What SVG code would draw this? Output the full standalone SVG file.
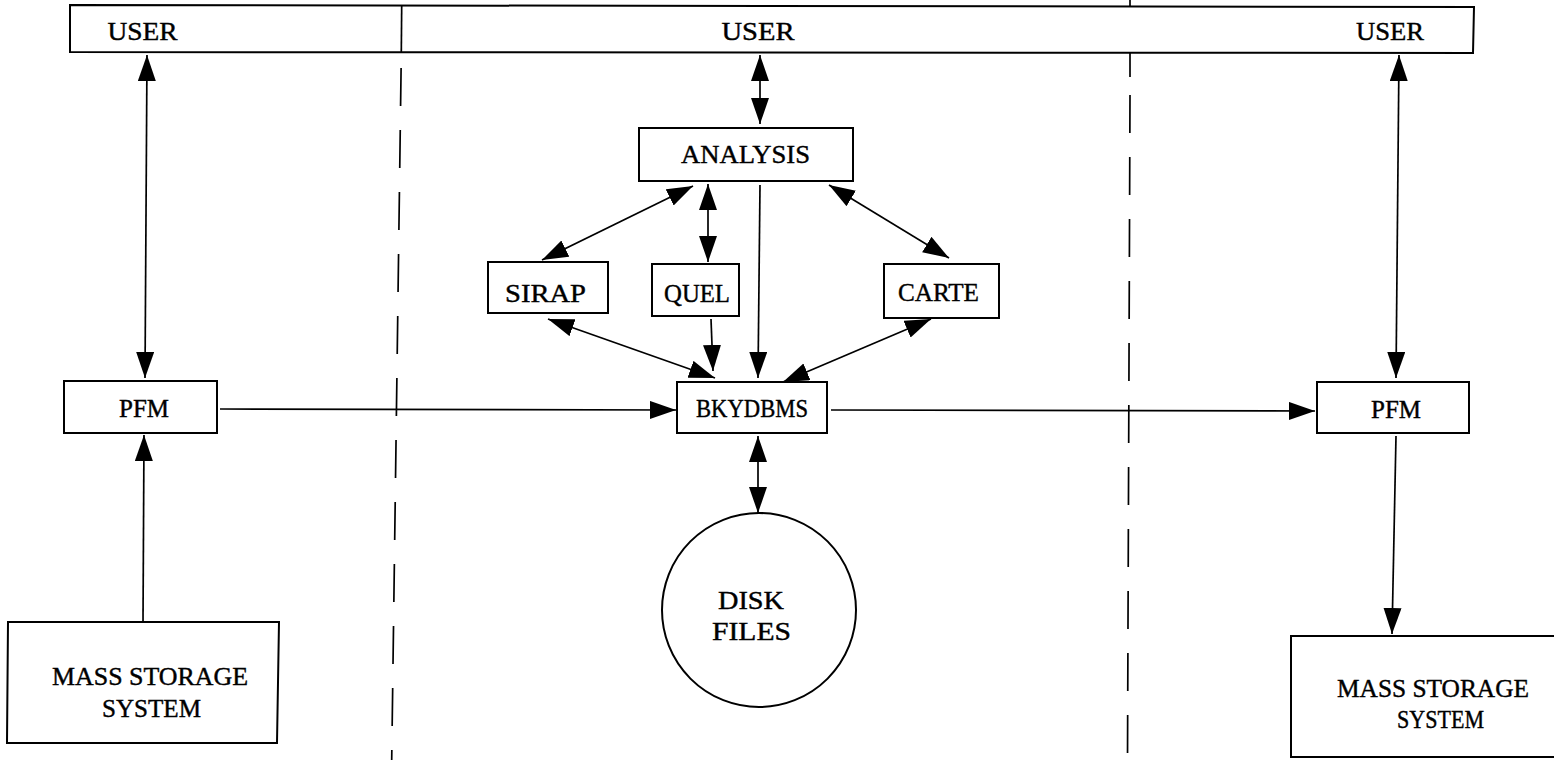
<svg xmlns="http://www.w3.org/2000/svg" width="1554" height="760" viewBox="0 0 1554 760">
<style>
.box{fill:#fff;stroke:#000;stroke-width:2}
.t{font-family:"Liberation Serif","DejaVu Serif",serif;font-size:25px;fill:#000;stroke:#000;stroke-width:0.4;text-anchor:middle}
.c{fill:none;stroke:#000;stroke-width:1.7}
.div{fill:none;stroke:#000;stroke-width:1.7}
.dash{stroke-dasharray:38 24}
</style>
<defs>
<marker id="ah" markerUnits="userSpaceOnUse" markerWidth="27" markerHeight="19" refX="26" refY="9" orient="auto-start-reverse" viewBox="0 0 27 19">
<path d="M0,0 L26,9 L0,18 z" fill="#000"/>
</marker>
</defs>
<rect width="1554" height="760" fill="#fff"/>
<g id="dividers">
<line class="div dash" x1="401.1" y1="68" x2="391.7" y2="760"/>
<line class="div" x1="1130" y1="0" x2="1130" y2="77"/>
<line class="div dash" x1="1130" y1="95" x2="1127.5" y2="760"/>
</g>
<g id="user-bar">
<path class="box" d="M70,5 L1474,7 L1473,53 L70,52 Z" fill="none"/>
<line class="div" x1="401.7" y1="6" x2="401.3" y2="52"/>
<text class="t" x="142.5" y="40" textLength="70" lengthAdjust="spacingAndGlyphs">USER</text>
<text class="t" x="758" y="40" textLength="73" lengthAdjust="spacingAndGlyphs">USER</text>
<text class="t" x="1390" y="40" textLength="68" lengthAdjust="spacingAndGlyphs">USER</text>
</g>
<g id="analysis"><rect class="box" x="639" y="128" width="214" height="53"/><text class="t" x="745.5" y="163" textLength="129" lengthAdjust="spacingAndGlyphs">ANALYSIS</text></g>
<g id="sirap"><rect class="box" x="488" y="262" width="120" height="51"/><text class="t" x="545.5" y="302" textLength="81" lengthAdjust="spacingAndGlyphs">SIRAP</text></g>
<g id="quel"><rect class="box" x="652" y="264" width="87" height="52"/><text class="t" x="697" y="302" textLength="66" lengthAdjust="spacingAndGlyphs">QUEL</text></g>
<g id="carte"><rect class="box" x="884" y="264" width="115" height="54"/><text class="t" x="938.5" y="301" textLength="81" lengthAdjust="spacingAndGlyphs">CARTE</text></g>
<g id="bkydbms"><rect class="box" x="677" y="382" width="150" height="51"/><text class="t" x="752" y="417" textLength="112" lengthAdjust="spacingAndGlyphs">BKYDBMS</text></g>
<g id="pfm-left"><rect class="box" x="64" y="381" width="153" height="52"/><text class="t" x="144" y="417" textLength="50" lengthAdjust="spacingAndGlyphs">PFM</text></g>
<g id="pfm-right"><rect class="box" x="1317" y="382" width="152" height="51"/><text class="t" x="1396" y="418" textLength="50" lengthAdjust="spacingAndGlyphs">PFM</text></g>
<g id="disk"><circle class="box" cx="759" cy="610" r="97"/><text class="t" x="751" y="609" textLength="66" lengthAdjust="spacingAndGlyphs">DISK</text><text class="t" x="751.5" y="640" textLength="79" lengthAdjust="spacingAndGlyphs">FILES</text></g>
<g id="mss-left"><path class="box" d="M8,622 L279,622 L277,743 L7,743 Z"/><text class="t" x="150" y="685" textLength="196" lengthAdjust="spacingAndGlyphs">MASS STORAGE</text><text class="t" x="151.5" y="717" textLength="99" lengthAdjust="spacingAndGlyphs">SYSTEM</text></g>
<g id="mss-right"><path class="box" d="M1560,636 L1291,636 L1291,757 L1560,757"/><text class="t" x="1433" y="697" textLength="192" lengthAdjust="spacingAndGlyphs">MASS STORAGE</text><text class="t" x="1440.5" y="728" textLength="87" lengthAdjust="spacingAndGlyphs">SYSTEM</text></g>
<g id="connectors">
<line class="c" x1="147" y1="55" x2="145" y2="378" marker-start="url(#ah)" marker-end="url(#ah)"/>
<line class="c" x1="143" y1="622" x2="144" y2="435" marker-end="url(#ah)"/>
<line class="c" x1="1399" y1="55" x2="1396" y2="378" marker-start="url(#ah)" marker-end="url(#ah)"/>
<line class="c" x1="1396" y1="436" x2="1392" y2="634" marker-end="url(#ah)"/>
<line class="c" x1="760" y1="55" x2="760" y2="124" marker-start="url(#ah)" marker-end="url(#ah)"/>
<line class="c" x1="693" y1="186" x2="542" y2="260" marker-start="url(#ah)" marker-end="url(#ah)"/>
<line class="c" x1="708" y1="184" x2="708" y2="262" marker-start="url(#ah)" marker-end="url(#ah)"/>
<line class="c" x1="760" y1="185" x2="758" y2="378" marker-end="url(#ah)"/>
<line class="c" x1="829" y1="185" x2="949" y2="258" marker-start="url(#ah)" marker-end="url(#ah)"/>
<line class="c" x1="548" y1="319" x2="715" y2="378" marker-start="url(#ah)" marker-end="url(#ah)"/>
<line class="c" x1="711" y1="319" x2="713" y2="371" marker-end="url(#ah)"/>
<line class="c" x1="931" y1="319" x2="783" y2="382" marker-start="url(#ah)" marker-end="url(#ah)"/>
<line class="c" x1="758" y1="436" x2="758" y2="513" marker-start="url(#ah)" marker-end="url(#ah)"/>
<line class="c" x1="220" y1="409" x2="676" y2="410" marker-end="url(#ah)"/>
<line class="c" x1="831" y1="410" x2="1315" y2="411" marker-end="url(#ah)"/>
</g>
</svg>
